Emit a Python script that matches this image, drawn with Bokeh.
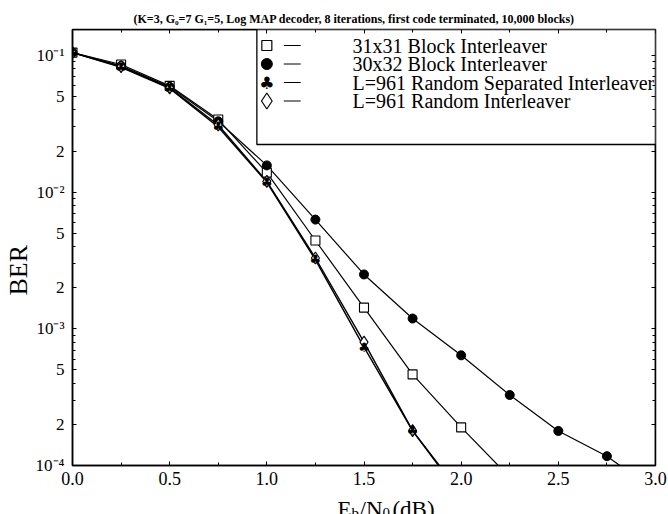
import math
from bokeh.plotting import figure
from bokeh.layouts import column
from bokeh.models import Range1d, LinearAxis, LogAxis, FixedTicker, CustomJSTickFormatter
from bokeh.embed import file_html
from bokeh.resources import INLINE
from bokeh.core.properties import value

# ---------------- data ----------------
ebn0 = [0.0, 0.25, 0.5, 0.75, 1.0, 1.25, 1.5, 1.75, 2.0, 2.25, 2.5, 2.75, 3.0]
ber_block_31x31 = [0.105, 0.086, 0.060, 0.034, 0.0139, 0.00443, 0.00143, 0.000464, 0.000190, 0.000082]
ber_block_30x32 = [0.105, 0.084, 0.059, 0.033, 0.0157, 0.0063, 0.0025, 0.00119, 0.00064,
                   0.000328, 0.000179, 0.000117, 0.000065]
ber_random_sep = [0.105, 0.082, 0.0575, 0.030, 0.0118, 0.0032, 0.000735, 0.000179, 0.000060]
ber_random = [0.105, 0.083, 0.058, 0.031, 0.0120, 0.0033, 0.00080, 0.000180, 0.000062]

series_labels = ["31x31 Block Interleaver", "30x32 Block Interleaver",
                 "L=961 Random Separated Interleaver", "L=961 Random Interleaver"]

title_text = "(K=3, G\u2080=7 G\u2081=5, Log MAP decoder, 8 iterations, first code terminated, 10,000 blocks)"
y_axis_title = "BER"
x_axis_title_parts = ["E", "b", "/N", "0", " (dB)"]

x_ticks = [0.0, 0.5, 1.0, 1.5, 2.0, 2.5, 3.0]
x_tick_labels = ["0.0", "0.5", "1.0", "1.5", "2.0", "2.5", "3.0"]
x_minor_ticks = [0.25, 0.75, 1.25, 1.75, 2.25, 2.75]
y_ticks = [1e-4, 2e-4, 5e-4, 1e-3, 2e-3, 5e-3, 1e-2, 2e-2, 5e-2, 1e-1]
y_tick_labels = ["10\u207b\u2074", "2", "5", "10\u207b\u00b3", "2", "5",
                 "10\u207b\u00b2", "2", "5", "10\u207b\u00b9"]
y_decades = [1e-4, 1e-3, 1e-2, 1e-1]
y_minor_mult = [3, 4, 6, 7, 8, 9]

X0, X1 = 0.0, 3.0
Y0, Y1 = 1e-4, 0.155

# ---------------- layout ----------------
W = 668
H_MAIN, H_XLAB = 493, 21
BL, BR, BT = 70, 13, 29
FRAME_W = W - BL - BR          # 585
FRAME_H = 436
BB = H_MAIN - BT - FRAME_H
SERIF = "Liberation Serif"


def px2x(px):
    return X0 + (px - BL) / FRAME_W * (X1 - X0)


def py2y(py):
    l0, l1 = math.log10(Y0), math.log10(Y1)
    return 10 ** (l1 - (py - BT) / FRAME_H * (l1 - l0))


y_minor_ticks = [m * d for d in y_decades for m in y_minor_mult if m * d < Y1]

p = figure(width=W, height=H_MAIN, output_backend="svg", toolbar_location=None,
           x_range=Range1d(X0, X1), y_range=Range1d(Y0, Y1), y_axis_type="log",
           min_border_left=BL, min_border_right=BR, min_border_top=BT, min_border_bottom=BB)
p.xgrid.grid_line_color = None
p.ygrid.grid_line_color = None
p.outline_line_color = "black"
p.outline_line_width = 1.5
p.background_fill_color = "white"
p.border_fill_color = "white"

p.title.text = title_text
p.title.align = "left"
p.title.offset = 61
p.title.standoff = 8
p.title.text_font = SERIF
p.title.text_font_size = "12px"
p.title.text_font_style = "bold"
p.title.text_color = "black"


def style_axis(ax):
    ax.axis_line_color = "black"
    ax.axis_line_width = 1.5
    ax.major_tick_in = 4
    ax.major_tick_out = 0
    ax.minor_tick_in = 3
    ax.minor_tick_out = 0
    ax.major_tick_line_color = "black"
    ax.minor_tick_line_color = "black"


xt = FixedTicker(ticks=x_ticks, minor_ticks=x_minor_ticks)
yt = FixedTicker(ticks=y_ticks, minor_ticks=y_minor_ticks)
blank = CustomJSTickFormatter(code="return ''")

p.xaxis.ticker = xt
p.xaxis.major_label_overrides = dict(zip(x_ticks, x_tick_labels))
for ax in p.xaxis:
    style_axis(ax)
    ax.major_label_text_font = SERIF
    ax.major_label_text_font_size = "18px"
    ax.major_label_text_color = "black"
    ax.major_label_standoff = 6

p.yaxis.ticker = yt
p.yaxis.major_label_overrides = dict(zip(y_ticks, y_tick_labels))
for ax in p.yaxis:
    style_axis(ax)
    ax.major_label_text_font = SERIF
    ax.major_label_text_font_size = "17px"
    ax.major_label_text_color = "black"
    ax.major_label_standoff = 8
    ax.axis_label = y_axis_title + "\u00a0" * 7
    ax.axis_label_text_font = SERIF
    ax.axis_label_text_font_size = "26px"
    ax.axis_label_text_font_style = "normal"
    ax.axis_label_text_color = "black"
    ax.axis_label_standoff = 0

top_ax = LinearAxis(ticker=xt, formatter=blank, fixed_location=Y1)
style_axis(top_ax)
p.add_layout(top_ax, "above")
right_ax = LogAxis(ticker=yt, formatter=blank, fixed_location=X1)
style_axis(right_ax)
p.add_layout(right_ax, "right")

# ---------------- series ----------------
n1, n2, n3, n4 = len(ber_block_31x31), len(ber_block_30x32), len(ber_random_sep), len(ber_random)
club = "\u2663\ufe0e"
p.line(ebn0[:n1], ber_block_31x31, line_color="black", line_width=1.2)
p.line(ebn0[:n2], ber_block_30x32, line_color="black", line_width=1.2)
p.line(ebn0[:n3], ber_random_sep, line_color="black", line_width=1.4)
p.line(ebn0[:n4], ber_random, line_color="black", line_width=1.4)

p.scatter(ebn0[:n1], ber_block_31x31, marker="square", size=9, fill_color="white",
          line_color="black", line_width=1.1)
p.scatter(ebn0[:n2], ber_block_30x32, marker="circle", size=9, fill_color="black",
          line_color="black")
p.scatter(ebn0[:n4], ber_random, marker="diamond", size=12, fill_color="white",
          line_color="black", line_width=1.1)
p.text(ebn0[:n3], ber_random_sep, text=[club] * n3, text_font=value("DejaVu Sans"),
       text_font_size="13px", text_align="center", text_baseline="middle", text_color="black")

# ---------------- legend (drawn box) ----------------
leg_rows = [45, 63.5, 82, 100.5]
leg_y = [py2y(r) for r in leg_rows]
p.quad(left=px2x(255), right=px2x(656), top=py2y(28), bottom=py2y(144),
       fill_color="white", line_color="black", line_width=1.3)
p.scatter([px2x(265)], [leg_y[0]], marker="square", size=10, fill_color="white",
          line_color="black", line_width=1.2)
p.scatter([px2x(265)], [leg_y[1]], marker="circle", size=11, fill_color="black", line_color="black")
p.text([px2x(265)], [leg_y[2]], text=[club], text_font=value("DejaVu Sans"),
       text_font_size="17px", text_align="center", text_baseline="middle", text_color="black")
p.scatter([px2x(265)], [leg_y[3]], marker="diamond", size=16, fill_color="white",
          line_color="black", line_width=1.2)
p.segment(x0=[px2x(282)] * 4, x1=[px2x(299)] * 4, y0=leg_y, y1=leg_y,
          line_color="black", line_width=1.0)
p.text([px2x(351)] * 4, leg_y, text=series_labels, text_font=value(SERIF),
       text_font_size="20px", text_baseline="middle", text_align="left", text_color="black")

# ---------------- x-axis title strip (with subscripts) ----------------
# in a column, this strip's frame is aligned with the main frame (x 70..655 px),
# so its x range is expressed in page pixels over that span
q = figure(width=W, height=H_XLAB, output_backend="svg", toolbar_location=None,
           x_range=Range1d(BL, W - BR), y_range=Range1d(H_XLAB, 0), title=None,
           min_border_left=BL, min_border_right=BR, min_border_top=0, min_border_bottom=0,
           x_axis_location=None, y_axis_location=None)
q.title = None
q.xgrid.grid_line_color = None
q.ygrid.grid_line_color = None
q.outline_line_color = None
q.background_fill_color = "white"
q.border_fill_color = "white"
xl_x = [336.0, 350.0, 358.0, 381.0, 391.0]
xl_y = [16.0, 19.5, 16.0, 19.5, 16.0]
xl_size = ["23px", "15px", "23px", "15px", "23px"]
q.text(xl_x, xl_y, text=x_axis_title_parts, text_font=value(SERIF), text_font_size=xl_size,
       text_align="left", text_baseline="alphabetic", text_color="black")

layout = column(p, q, spacing=0)
open("out.html", "w").write(file_html(layout, INLINE))
